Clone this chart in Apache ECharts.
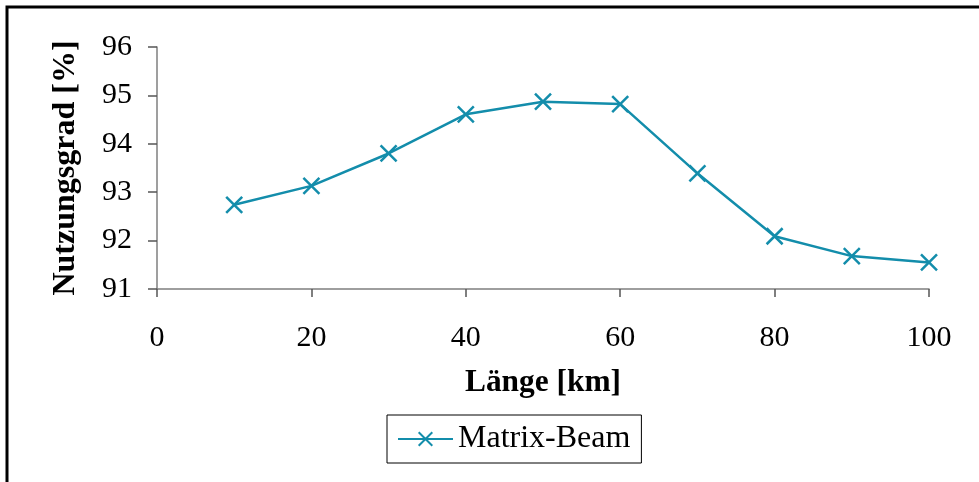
<!DOCTYPE html>
<html>
<head>
<meta charset="utf-8">
<script src="https://cdn.jsdelivr.net/npm/echarts@6/dist/echarts.min.js"></script>
<style>
  html, body { margin: 0; padding: 0; background: #ffffff; }
  #chart { width: 979px; height: 482px; }
</style>
</head>
<body>
<div id="chart"></div>
<script>
// Nutzungsgrad über der Länge (Matrix-Beam)
const laengeKm = [10, 20, 30, 40, 50, 60, 70, 80, 90, 100];
const nutzungsgrad = [92.74, 93.13, 93.80, 94.61, 94.87, 94.82, 93.39, 92.09, 91.68, 91.55];
const seriesName = 'Matrix-Beam';
const xAxisTitle = 'Länge [km]';
const yAxisTitle = 'Nutzungsgrad [%]';

const lineColor = '#138dab';
const crossSymbol = 'path://M0,0L10,10M10,0L0,10';
const serif = '"Liberation Serif", "Times New Roman", serif';

const chart = echarts.init(document.getElementById('chart'), null, { renderer: 'canvas' });

chart.setOption({
  animation: false,
  backgroundColor: '#ffffff',
  textStyle: { fontFamily: serif },
  grid: { left: 157, right: 50, top: 47, bottom: 193, containLabel: false },
  xAxis: {
    type: 'value',
    min: 0, max: 100, interval: 20,
    name: xAxisTitle,
    nameLocation: 'middle',
    nameGap: 78,
    nameTextStyle: { fontFamily: serif, fontWeight: 'bold', fontSize: 31.4, color: '#000' },
    axisLine: { show: true, lineStyle: { color: '#7f7f7f', width: 1.5 } },
    axisTick: { show: true, inside: false, length: 8, lineStyle: { color: '#555', width: 1.5 } },
    axisLabel: { fontFamily: serif, fontSize: 30, color: '#000', margin: 34 },
    splitLine: { show: false }
  },
  yAxis: {
    type: 'value',
    min: 91, max: 96, interval: 1,
    name: yAxisTitle,
    nameLocation: 'middle',
    nameGap: 75,
    nameRotate: 90,
    nameTextStyle: { fontFamily: serif, fontWeight: 'bold', fontSize: 32, color: '#000' },
    axisLine: { show: true, lineStyle: { color: '#7f7f7f', width: 1.5 } },
    axisTick: { show: true, inside: false, length: 9, lineStyle: { color: '#555', width: 1.5 } },
    axisLabel: { fontFamily: serif, fontSize: 30, color: '#000', margin: 25 },
    splitLine: { show: false }
  },
  legend: {
    left: 387, top: 415,
    padding: [8, 11, 8, 10],
    itemWidth: 55, itemHeight: 17,
    itemGap: 8,
    borderColor: '#000', borderWidth: 1,
    textStyle: { fontFamily: serif, fontSize: 32, color: '#000' },
    data: [seriesName]
  },
  series: [{
    name: seriesName,
    type: 'line',
    data: laengeKm.map((x, i) => [x, nutzungsgrad[i]]),
    symbol: crossSymbol,
    symbolSize: 16,
    lineStyle: { color: lineColor, width: 2.5 },
    itemStyle: { color: lineColor, borderColor: lineColor, borderWidth: 2.5 }
  }],
  graphic: [{
    type: 'polyline',
    shape: { points: [[7, 482], [7, 7], [979, 7]] },
    style: { stroke: '#000', lineWidth: 3, fill: null },
    silent: true
  }]
});
</script>
</body>
</html>
